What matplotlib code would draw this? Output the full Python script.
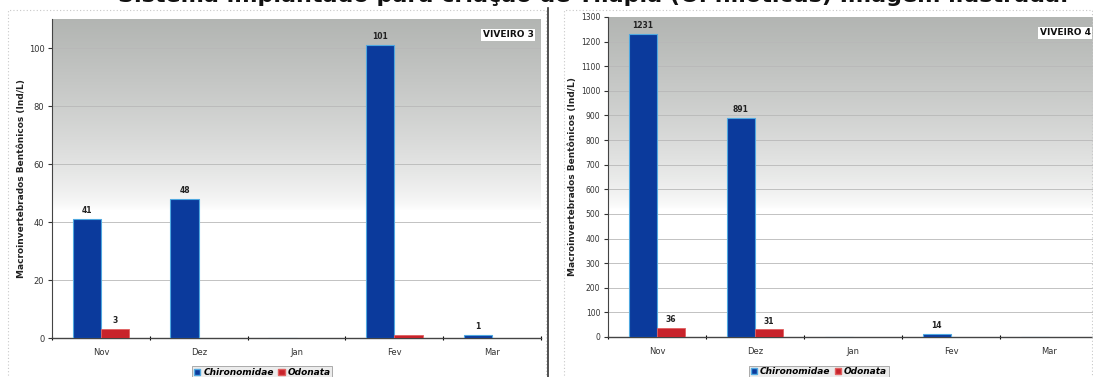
import numpy as np
import matplotlib
matplotlib.use("Agg")
import matplotlib.pyplot as plt
from matplotlib.patches import Patch, Rectangle
from matplotlib.lines import Line2D

months = ["Nov", "Dez", "Jan", "Fev", "Mar"]
series_names = ["Chironomidae", "Odonata"]
v3_chiro = [41, 48, 0, 101, 1]
v3_odon = [3, 0, 0, 1, 0]
v3_chiro_labels = ["41", "48", "", "101", "1"]
v3_odon_labels = ["3", "", "", "", ""]
v4_chiro = [1231, 891, 0, 14, 0]
v4_odon = [36, 31, 0, 0, 0]
v4_chiro_labels = ["1231", "891", "", "14", ""]
v4_odon_labels = ["36", "31", "", "", ""]

BLUE = "#0b3a9c"
EDGE = "#4fa8e0"
RED = "#c8232b"

W, H = 1093, 377
fig = plt.figure(figsize=(W / 100, H / 100), dpi=100)
fig.patch.set_facecolor("white")

def ax_px(x0, y_top, x1, y_bot):
    return fig.add_axes([x0 / W, 1 - y_bot / H, (x1 - x0) / W, (y_bot - y_top) / H])

# panel frames
for (x0, x1) in [(8, 546), (564, 1092)]:
    fig.add_artist(Rectangle((x0 / W, -0.02), (x1 - x0) / W, (H - 10) / H + 0.02,
                             transform=fig.transFigure, fill=False,
                             edgecolor="#c8c8c8", lw=0.8, ls=(0, (1, 2))))
fig.add_artist(Line2D([548 / W, 548 / W], [0, 1 - 8 / H], transform=fig.transFigure,
                      color="#333333", lw=1.2))

# title (partially cropped at the top)
fig.text(593 / W, 1.012, "Sistema implantado para criação de Tilápia (O. niloticus) Imagem ilustrada.",
         ha="center", va="center", fontsize=16, fontweight="bold", color="#111111")

def panel(ax, chiro, odon, cl, ol, ymax, ystep, tag, lab_fs, lx, yfs):
    n = len(months)
    x = np.arange(n)
    bw = 0.29
    t = np.linspace(0, 1, 256)  # 0 bottom, 1 top
    g = np.clip((t - 0.40) / 0.60, 0, 1)
    top = np.array([0.70, 0.71, 0.70])
    img = np.zeros((256, 1, 3))
    for c in range(3):
        img[:, 0, c] = 1 - (1 - top[c]) * g ** 0.7
    ax.imshow(img, extent=[-0.5, n - 0.5, 0, ymax], origin="lower", aspect="auto", zorder=0)
    ax.set_xlim(-0.5, n - 0.5)
    ax.set_ylim(0, ymax)
    ax.set_yticks(np.arange(0, ymax + 1, ystep))
    for yv in np.arange(ystep, ymax, ystep):
        ax.axhline(yv, color="#b8b8b8", lw=0.6, zorder=1)
    ax.bar(x - bw / 2, chiro, bw, color=BLUE, edgecolor=EDGE, lw=0.8, zorder=3)
    ax.bar(x + bw / 2, odon, bw, color=RED, edgecolor="#e06060", lw=0.6, zorder=3)
    for i in range(n):
        if cl[i]:
            ax.text(x[i] - bw / 2, chiro[i] + ymax * 0.012, cl[i], ha="center", va="bottom",
                    fontsize=lab_fs, fontweight="bold", color="#222222", zorder=4)
        if ol[i]:
            ax.text(x[i] + bw / 2, odon[i] + ymax * 0.012, ol[i], ha="center", va="bottom",
                    fontsize=lab_fs, fontweight="bold", color="#222222", zorder=4)
    ax.set_xticks(x)
    ax.set_xticklabels(months, fontsize=6, color="#333333")
    ax.set_xticks(np.arange(-0.5, n, 1.0), minor=True)
    ax.tick_params(axis="x", which="major", length=0, pad=7)
    ax.tick_params(axis="x", which="minor", length=3, direction="inout", width=0.8)
    ax.tick_params(axis="y", labelsize=yfs, length=3, width=0.8, colors="#333333", pad=2.5)
    for s in ["top", "right"]:
        ax.spines[s].set_visible(False)
    ax.spines["left"].set_color("#444444")
    ax.spines["bottom"].set_color("#444444")
    ax.spines["left"].set_linewidth(0.8)
    ax.spines["bottom"].set_linewidth(1.0)
    ax.set_ylabel("Macroinvertebrados Bentônicos (Ind/L)", fontsize=6.5, fontweight="bold",
                  color="#222222")
    ax.yaxis.set_label_coords(lx, 0.5)
    ax.text(0.985, 0.965, tag, transform=ax.transAxes, ha="right", va="top", fontsize=6.5,
            fontweight="bold", color="#111111",
            bbox=dict(facecolor="white", edgecolor="none", pad=1.2), zorder=5)
    handles = [Patch(facecolor=BLUE, edgecolor=EDGE), Patch(facecolor=RED, edgecolor="#e06060")]
    leg = ax.legend(handles, series_names, loc="upper center", bbox_to_anchor=(0.43, -0.075),
                    ncol=2, frameon=True, handlelength=0.7, handleheight=0.7,
                    handletextpad=0.3, columnspacing=0.5, borderpad=0.2, fancybox=False,
                    prop=dict(size=6.5, weight="bold", style="italic"))
    leg.get_frame().set_edgecolor("#888888")
    leg.get_frame().set_linewidth(0.6)
    leg.get_frame().set_facecolor("#e8e8e8")

axL = ax_px(52, 19, 541, 338)
panel(axL, v3_chiro, v3_odon, v3_chiro_labels, v3_odon_labels, 110, 20, "VIVEIRO 3", 5.5, -0.053, 6)
axR = ax_px(608, 17, 1098, 337)
panel(axR, v4_chiro, v4_odon, v4_chiro_labels, v4_odon_labels, 1300, 100, "VIVEIRO 4", 5.5, -0.064, 5.5)

fig.savefig("out.png", dpi=100)
